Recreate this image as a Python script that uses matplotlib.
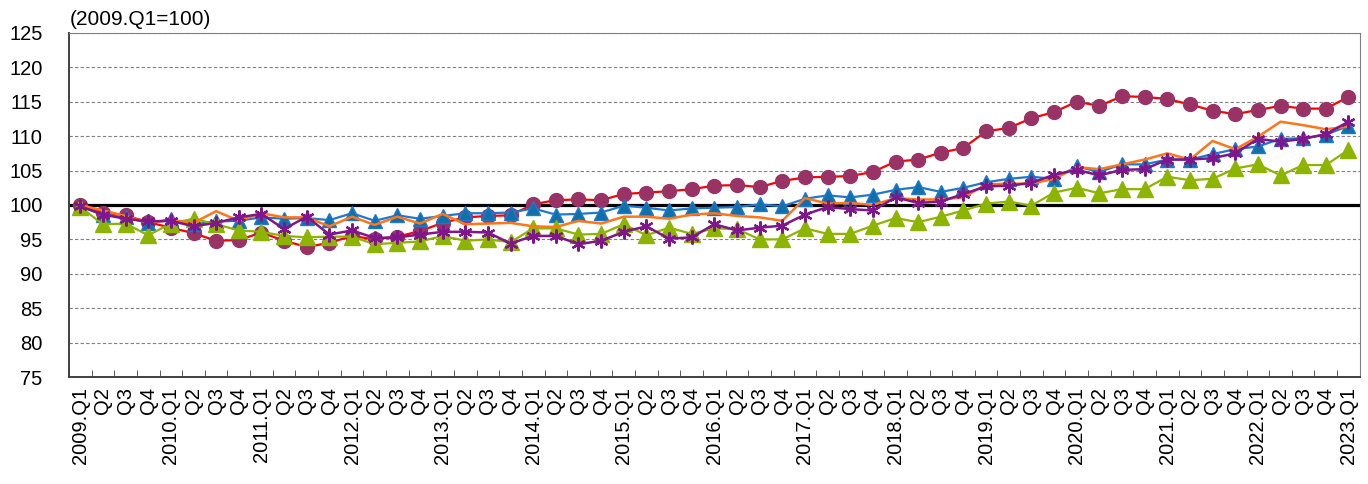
import matplotlib
matplotlib.use("Agg")
import matplotlib.pyplot as plt
from matplotlib import font_manager
import numpy as np

# condensed font if available, the original uses a narrow Japanese-style face
names = {f.name for f in font_manager.fontManager.ttflist}
base_font = "Liberation Sans Narrow" if "Liberation Sans Narrow" in names else "Liberation Sans"
plt.rcParams['font.family'] = [base_font, 'DejaVu Sans']

# quarters 2009.Q1 .. 2023.Q1
years = list(range(2009, 2024))
labels = []
for y in years:
    for q in range(1, 5):
        if y == 2023 and q > 1:
            break
        labels.append(f"{y}.Q1" if q == 1 else f"Q{q}")

red_circle = [100.0, 98.9, 98.5, 97.5, 96.7, 95.9, 94.8, 94.9, 96.0, 94.8, 93.9, 94.5,
              95.5, 95.0, 95.4, 96.2, 97.4, 98.2, 98.4, 98.5, 100.1, 100.7, 100.8, 100.7,
              101.6, 101.8, 102.0, 102.3, 102.8, 102.9, 102.6, 103.5, 104.0, 104.1, 104.2, 104.8,
              106.3, 106.6, 107.6, 108.3, 110.7, 111.2, 112.6, 113.5, 115.0, 114.4, 115.8, 115.7,
              115.4, 114.6, 113.7, 113.2, 113.8, 114.4, 114.0, 114.0, 115.7]

orange_line = [100.0, 99.2, 98.4, 97.4, 97.8, 97.4, 99.1, 97.7, 98.8, 98.2, 98.2, 96.9,
               98.3, 97.1, 98.3, 97.3, 98.7, 97.2, 97.3, 97.4, 96.9, 96.8, 97.7, 97.3,
               98.3, 98.3, 98.0, 98.6, 98.8, 98.4, 98.2, 97.7, 101.0, 100.2, 100.3, 100.0,
               101.0, 100.8, 100.8, 101.1, 103.0, 103.1, 103.1, 103.8, 105.5, 105.2, 105.9, 106.6,
               107.5, 106.6, 109.3, 108.1, 109.9, 112.1, 111.6, 111.0, 111.4]

blue_tri = [99.8, 98.6, 98.2, 97.4, 97.9, 97.2, 97.6, 97.7, 98.2, 98.0, 98.1, 97.8,
            98.8, 97.7, 98.5, 98.0, 98.4, 98.8, 98.8, 98.9, 99.5, 98.6, 98.7, 98.9,
            99.9, 99.6, 99.2, 99.5, 99.6, 99.7, 100.1, 99.8, 100.9, 101.4, 101.1, 101.5,
            102.2, 102.6, 101.9, 102.5, 103.3, 103.8, 104.1, 103.8, 105.6, 104.8, 105.9, 105.9,
            106.6, 106.6, 107.4, 108.1, 108.5, 109.6, 109.7, 110.2, 111.5]

green_tri = [99.7, 97.2, 97.3, 95.6, 97.3, 98.0, 97.2, 96.3, 96.1, 95.5, 95.3, 95.4,
             95.4, 94.3, 94.5, 94.7, 95.5, 94.8, 95.0, 94.6, 96.6, 96.6, 95.7, 95.8,
             97.2, 95.6, 96.7, 95.8, 96.6, 96.5, 95.0, 95.0, 96.6, 95.8, 95.8, 97.0,
             98.1, 97.5, 98.3, 99.2, 100.2, 100.5, 99.9, 101.8, 102.5, 101.7, 102.3, 102.3,
             104.1, 103.6, 103.8, 105.3, 105.9, 104.3, 105.8, 105.8, 108.0]

purple_star = [99.8, 98.6, 98.0, 97.6, 97.7, 96.9, 97.4, 98.2, 98.7, 96.5, 98.3, 95.7,
               96.3, 95.2, 95.3, 95.7, 96.1, 96.1, 96.0, 94.4, 95.5, 95.5, 94.3, 94.8,
               96.1, 96.9, 95.1, 95.3, 97.2, 96.3, 96.7, 97.0, 98.6, 99.7, 99.4, 99.2,
               101.1, 100.3, 100.5, 101.6, 102.7, 102.8, 103.2, 104.4, 105.1, 104.3, 105.1, 105.2,
               106.6, 106.6, 106.8, 107.5, 109.6, 109.2, 109.6, 110.3, 112.1]

x = np.arange(len(labels))

fig = plt.figure(figsize=(13.68, 4.84), dpi=100)
ax = fig.add_axes([0.0504, 0.221, 0.9436, 0.711])

ax.plot(x, red_circle, color='#FF0000', lw=1.6, marker='o', ms=10,
        mfc='#993366', mec='#993366', zorder=3)
ax.plot(x, blue_tri, color='#1F78D0', lw=1.6, marker='^', ms=9.5,
        mfc='#1070A8', mec='#1F78D0', zorder=4)
ax.plot(x, green_tri, color='#8DB400', lw=1.6, marker='^', ms=11.5,
        mfc='#8DB400', mec='#8DB400', zorder=4)
ax.plot(x, orange_line, color='#FF7518', lw=1.8, zorder=5)
ax.plot(x, purple_star, color='#80168C', lw=1.8, marker=(6, 2, 0), ms=10,
        mew=1.6, mfc='#80168C', mec='#80168C', zorder=6)

ax.axhline(100, color='black', lw=2.3, zorder=2)

ax.set_xlim(-0.5, len(labels) - 0.5)
ax.set_ylim(75, 125)
ax.set_yticks(np.arange(75, 126, 5))
ax.yaxis.grid(True, color='#808080', ls=(0, (3, 2)), lw=0.8)
ax.set_axisbelow(True)

ax.set_xticks(x)
ax.set_xticklabels(labels, rotation=90, fontsize=14.5)
ax.set_xticks(np.arange(-0.5, len(labels), 1), minor=True)
ax.tick_params(axis='x', which='major', length=0, pad=7)
ax.tick_params(axis='x', which='minor', direction='in', length=5, color='#404040')
ax.tick_params(axis='y', length=0, labelsize=14.5, pad=19)

for s in ['top', 'right']:
    ax.spines[s].set_color('#808080')
for s in ['left', 'bottom']:
    ax.spines[s].set_color('#404040')
    ax.spines[s].set_linewidth(1.4)

fig.text(0.051, 0.96, "(2009.Q1=100)", fontsize=15, ha='left', va='center')

fig.savefig("out.png", dpi=100)
